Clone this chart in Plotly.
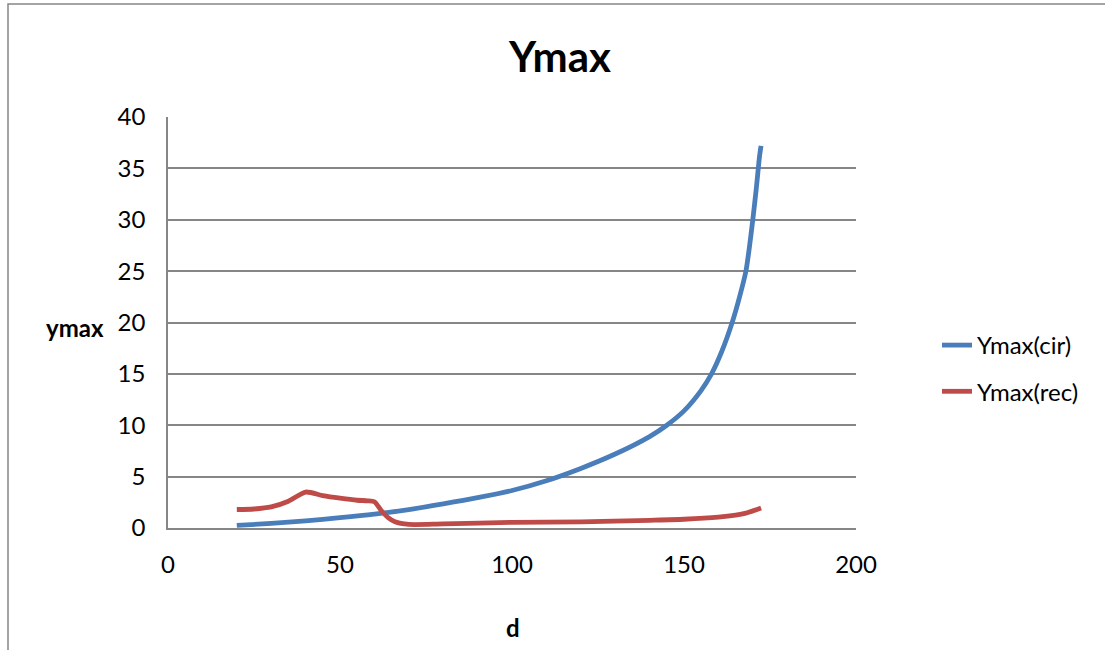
import plotly.graph_objects as go

# Data
d_cir = [20, 30, 40, 50, 60, 70, 80, 90, 100, 110, 120, 130, 140, 145, 150, 155,
         158, 161, 164, 166, 168, 169, 170, 171, 172, 172.4]
y_cir = [0.25, 0.45, 0.7, 1.0, 1.35, 1.8, 2.35, 2.95, 3.65, 4.6, 5.8, 7.2, 8.9,
         10.0, 11.4, 13.4, 15.0, 17.2, 20.0, 22.3, 25.0, 27.3, 30.0, 33.0, 36.3, 37.2]

d_rec = [20, 25, 30, 35, 40, 45, 50, 55, 58, 60, 62, 64, 66, 70, 80, 100, 120,
         140, 150, 160, 165, 168, 172.4]
y_rec = [1.8, 1.85, 2.05, 2.6, 3.5, 3.15, 2.9, 2.7, 2.65, 2.55, 1.7, 1.0, 0.6,
         0.35, 0.4, 0.55, 0.6, 0.75, 0.85, 1.05, 1.25, 1.45, 1.95]

x_ticks = [0, 50, 100, 150, 200]
y_ticks = [0, 5, 10, 15, 20, 25, 30, 35, 40]

FONT = "Lato"
GRID = "#868686"
FS = 24

fig = go.Figure()
fig.add_trace(go.Scatter(x=d_cir, y=y_cir, mode="lines", name="Ymax(cir)",
                         line=dict(color="#4A7EBB", width=4.8, shape="spline", smoothing=0.7),
                         legendgroup="a"))
fig.add_trace(go.Scatter(x=d_rec, y=y_rec, mode="lines", name="Ymax(rec)",
                         line=dict(color="#BE4B48", width=4.8, shape="spline", smoothing=0.7),
                         legendgroup="b"))

L, R, T, B = 168, 856, 117, 528
W, H = 1105, 650
pw, ph = R - L, B - T

def px(x):
    return (x - L) / pw

def py(y):
    return (B - y) / ph

fig.update_layout(
    width=W, height=H,
    margin=dict(l=L, r=W - R, t=T, b=H - B, pad=0),
    paper_bgcolor="white", plot_bgcolor="white",
    font=dict(family=FONT, size=FS, color="black"),
    title=dict(text="<b>Ymax</b>", font=dict(family=FONT, size=42, color="black"),
               x=px(560), xref="paper", xanchor="center",
               y=1 - 57 / H, yref="container", yanchor="middle"),
    xaxis=dict(range=[0, 200], tickvals=x_ticks, showgrid=False, zeroline=False,
               showline=True, linecolor=GRID, linewidth=1.5, ticks="",
               ticklabelstandoff=14, tickfont=dict(family=FONT, size=FS)),
    yaxis=dict(range=[0, 40], tickvals=y_ticks, showgrid=True, gridcolor=GRID,
               gridwidth=1.5, zeroline=False, showline=True, linecolor=GRID,
               linewidth=1.5, ticks="", ticklabelstandoff=16,
               tickfont=dict(family=FONT, size=FS)),
    legend=dict(x=px(937), xanchor="left", y=py(368.5), yanchor="middle",
                font=dict(family=FONT, size=FS), tracegroupgap=12,
                bgcolor="rgba(0,0,0,0)"),
    annotations=[
        dict(text="<b>ymax</b>", x=px(75), y=py(327), xref="paper", yref="paper",
             showarrow=False, xanchor="center", yanchor="middle",
             font=dict(family=FONT, size=FS, color="black")),
        dict(text="<b>d</b>", x=px(513), y=py(627), xref="paper", yref="paper",
             showarrow=False, xanchor="center", yanchor="middle",
             font=dict(family=FONT, size=FS, color="black")),
    ],
    shapes=[
        dict(type="path", xref="paper", yref="paper",
             path=f"M {px(8)} {py(652)} L {px(8)} {py(4)} L {px(1107)} {py(4)}",
             line=dict(color=GRID, width=1.5)),
    ],
)

fig.write_html("out.html", config={"displayModeBar": False},
               post_script="document.body.style.margin='0';")
